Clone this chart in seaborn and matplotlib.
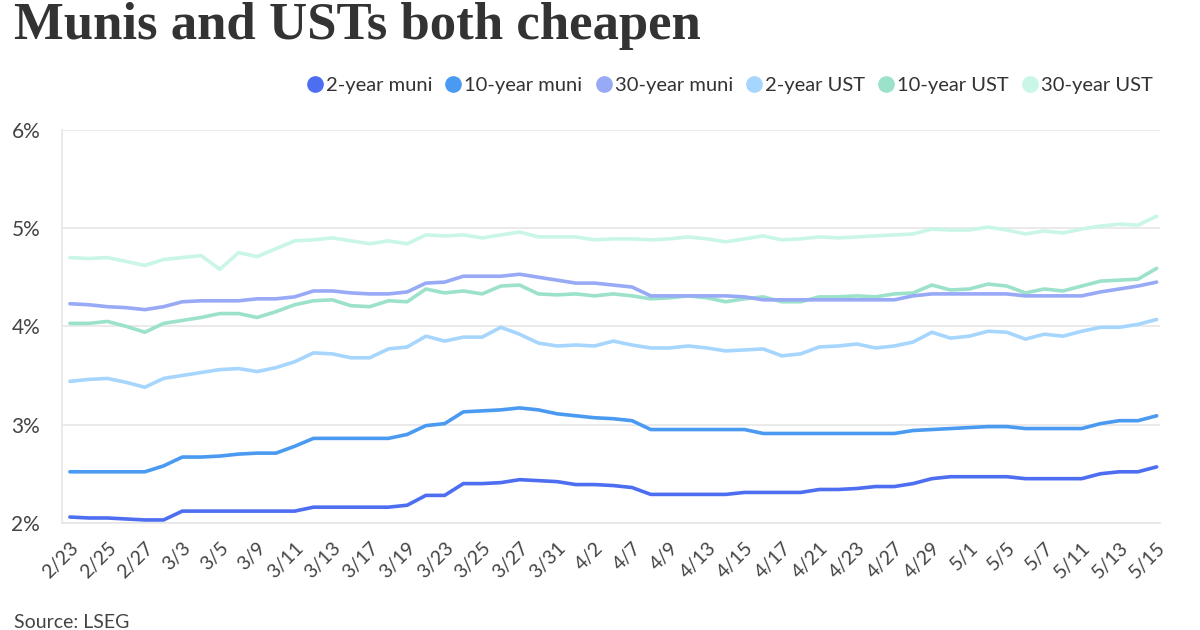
import matplotlib
matplotlib.use("Agg")
import matplotlib.pyplot as plt
import numpy as np
import pandas as pd
import seaborn as sns
from matplotlib.lines import Line2D

DATES = ["2/23", "2/24", "2/25", "2/26", "2/27", "3/2", "3/3", "3/4", "3/5", "3/6",
         "3/9", "3/10", "3/11", "3/12", "3/13", "3/16", "3/17", "3/18", "3/19", "3/20",
         "3/23", "3/24", "3/25", "3/26", "3/27", "3/30", "3/31", "4/1", "4/2", "4/6",
         "4/7", "4/8", "4/9", "4/10", "4/13", "4/14", "4/15", "4/16", "4/17", "4/20",
         "4/21", "4/22", "4/23", "4/24", "4/27", "4/28", "4/29", "4/30", "5/1", "5/4",
         "5/5", "5/6", "5/7", "5/8", "5/11", "5/12", "5/13", "5/14", "5/15"]

MUNI_2Y = [2.06, 2.05, 2.05, 2.04, 2.03, 2.03, 2.12, 2.12, 2.12, 2.12,
           2.12, 2.12, 2.12, 2.16, 2.16, 2.16, 2.16, 2.16, 2.18, 2.28,
           2.28, 2.40, 2.40, 2.41, 2.44, 2.43, 2.42, 2.39, 2.39, 2.38,
           2.36, 2.29, 2.29, 2.29, 2.29, 2.29, 2.31, 2.31, 2.31, 2.31,
           2.34, 2.34, 2.35, 2.37, 2.37, 2.40, 2.45, 2.47, 2.47, 2.47,
           2.47, 2.45, 2.45, 2.45, 2.45, 2.50, 2.52, 2.52, 2.57]
MUNI_10Y = [2.52, 2.52, 2.52, 2.52, 2.52, 2.58, 2.67, 2.67, 2.68, 2.70,
            2.71, 2.71, 2.78, 2.86, 2.86, 2.86, 2.86, 2.86, 2.90, 2.99,
            3.01, 3.13, 3.14, 3.15, 3.17, 3.15, 3.11, 3.09, 3.07, 3.06,
            3.04, 2.95, 2.95, 2.95, 2.95, 2.95, 2.95, 2.91, 2.91, 2.91,
            2.91, 2.91, 2.91, 2.91, 2.91, 2.94, 2.95, 2.96, 2.97, 2.98,
            2.98, 2.96, 2.96, 2.96, 2.96, 3.01, 3.04, 3.04, 3.09]
MUNI_30Y = [4.23, 4.22, 4.20, 4.19, 4.17, 4.20, 4.25, 4.26, 4.26, 4.26,
            4.28, 4.28, 4.30, 4.36, 4.36, 4.34, 4.33, 4.33, 4.35, 4.44,
            4.45, 4.51, 4.51, 4.51, 4.53, 4.50, 4.47, 4.44, 4.44, 4.42,
            4.40, 4.31, 4.31, 4.31, 4.31, 4.31, 4.30, 4.27, 4.27, 4.27,
            4.27, 4.27, 4.27, 4.27, 4.27, 4.31, 4.33, 4.33, 4.33, 4.33,
            4.33, 4.31, 4.31, 4.31, 4.31, 4.35, 4.38, 4.41, 4.45]
UST_2Y = [3.44, 3.46, 3.47, 3.43, 3.38, 3.47, 3.50, 3.53, 3.56, 3.57,
          3.54, 3.58, 3.64, 3.73, 3.72, 3.68, 3.68, 3.77, 3.79, 3.90,
          3.85, 3.89, 3.89, 3.99, 3.92, 3.83, 3.80, 3.81, 3.80, 3.85,
          3.81, 3.78, 3.78, 3.80, 3.78, 3.75, 3.76, 3.77, 3.70, 3.72,
          3.79, 3.80, 3.82, 3.78, 3.80, 3.84, 3.94, 3.88, 3.90, 3.95,
          3.94, 3.87, 3.92, 3.90, 3.95, 3.99, 3.99, 4.02, 4.07]
UST_10Y = [4.03, 4.03, 4.05, 4.00, 3.94, 4.03, 4.06, 4.09, 4.13, 4.13,
           4.09, 4.15, 4.22, 4.26, 4.27, 4.21, 4.20, 4.26, 4.25, 4.38,
           4.34, 4.36, 4.33, 4.41, 4.42, 4.33, 4.32, 4.33, 4.31, 4.33,
           4.31, 4.28, 4.29, 4.31, 4.29, 4.25, 4.28, 4.30, 4.25, 4.25,
           4.30, 4.30, 4.31, 4.30, 4.33, 4.34, 4.42, 4.37, 4.38, 4.43,
           4.41, 4.34, 4.38, 4.36, 4.41, 4.46, 4.47, 4.48, 4.59]
UST_30Y = [4.70, 4.69, 4.70, 4.66, 4.62, 4.68, 4.70, 4.72, 4.58, 4.75,
           4.71, 4.79, 4.87, 4.88, 4.90, 4.87, 4.84, 4.87, 4.84, 4.93,
           4.92, 4.93, 4.90, 4.93, 4.96, 4.91, 4.91, 4.91, 4.88, 4.89,
           4.89, 4.88, 4.89, 4.91, 4.89, 4.86, 4.89, 4.92, 4.88, 4.89,
           4.91, 4.90, 4.91, 4.92, 4.93, 4.94, 4.99, 4.98, 4.98, 5.01,
           4.98, 4.94, 4.97, 4.95, 4.99, 5.02, 5.04, 5.03, 5.12]

SERIES = {
    "2-year muni": MUNI_2Y,
    "10-year muni": MUNI_10Y,
    "30-year muni": MUNI_30Y,
    "2-year UST": UST_2Y,
    "10-year UST": UST_10Y,
    "30-year UST": UST_30Y,
}
COLORS = {
    "2-year muni": "#4d6ef0",
    "10-year muni": "#4a9af2",
    "30-year muni": "#98a9f6",
    "2-year UST": "#a6d6fd",
    "10-year UST": "#9ce2cb",
    "30-year UST": "#c9f6e6",
}

sns.set_theme(style="white")
plt.rcParams["font.family"] = ["Lato", "DejaVu Sans"]

df = pd.concat(
    [pd.DataFrame({"idx": np.arange(len(DATES)), "value": vals, "series": name})
     for name, vals in SERIES.items()],
    ignore_index=True,
)

fig = plt.figure(figsize=(12, 6.3), dpi=100)
ax = fig.add_axes([0.052, 0.170, 0.915, 0.624])
# UST lines first so the muni lines sit on top
for name in list(SERIES)[::-1]:
    sub = df[df["series"] == name]
    sns.lineplot(data=sub, x="idx", y="value", color=COLORS[name], linewidth=2.6, ax=ax)

ax.set_ylim(2, 6)
ax.set_xlim(-0.4, len(DATES) - 0.8)
ax.set_yticks([2, 3, 4, 5, 6])
ax.set_yticklabels(["2%", "3%", "4%", "5%", "6%"], fontsize=15, color="#444444")
ax.yaxis.grid(True, color="#e6e6e6", linewidth=1.2)
ax.set_xticks(np.arange(len(DATES)), minor=True)
ax.set_xticks(np.arange(0, len(DATES), 2))
ax.set_xticklabels(DATES[::2], rotation=45, ha="right", rotation_mode="anchor",
                   fontsize=14, color="#444444")
ax.tick_params(axis="x", which="both", length=8, color="#e0e0e0", width=1)
ax.tick_params(axis="y", length=0, pad=16)
ax.set_xlabel("")
ax.set_ylabel("")
for side in ["top", "right"]:
    ax.spines[side].set_visible(False)
for side in ["left", "bottom"]:
    ax.spines[side].set_color("#e6e6e6")
    ax.spines[side].set_linewidth(1.2)

handles = [Line2D([0], [0], marker="o", linestyle="", markersize=11,
                  markerfacecolor=COLORS[n], markeredgecolor=COLORS[n]) for n in SERIES]
fig.legend(handles, list(SERIES), loc="center right", bbox_to_anchor=(0.976, 0.865),
           ncol=6, frameon=False, fontsize=14.5, handletextpad=0.05, columnspacing=0.55,
           handlelength=1.0, labelcolor="#333333")

fig.text(0.012, 0.958, "Munis and USTs both cheapen", fontsize=38, weight="bold",
         family=["Liberation Serif"], color="#333333", va="center")
fig.text(0.012, 0.012, "Source: LSEG", fontsize=14, color="#444444", va="center")

fig.savefig("out.png", dpi=100)
